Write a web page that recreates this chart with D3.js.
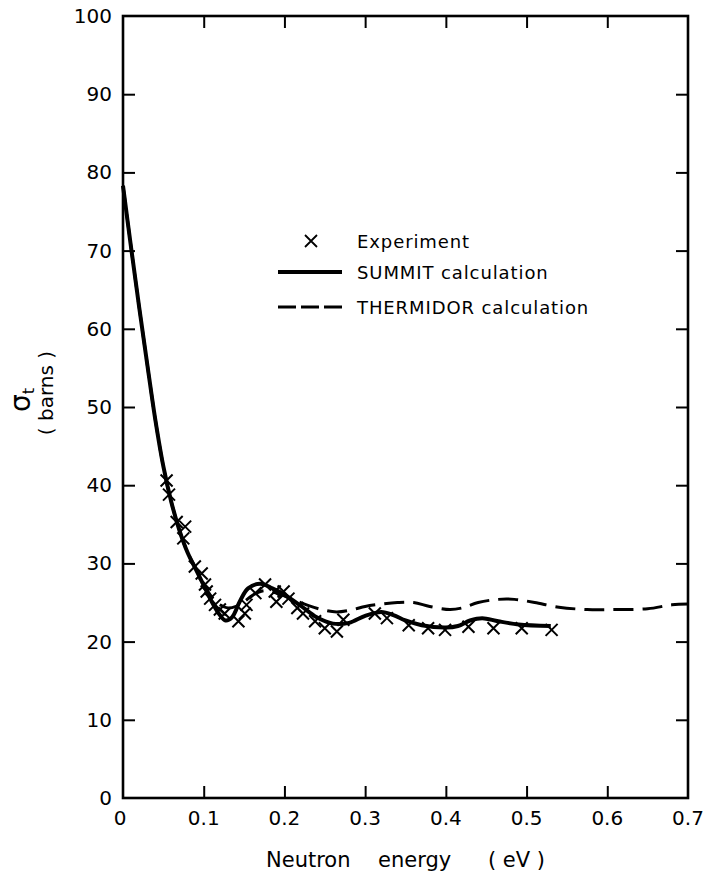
<!DOCTYPE html>
<html><head><meta charset="utf-8">
<script src="https://cdn.jsdelivr.net/npm/d3@7"></script>
<style>body{margin:0;background:#fff}svg{display:block}text{font-family:"DejaVu Sans",sans-serif;fill:#000}</style>
</head><body>
<script>
const xTicks=[0,0.1,0.2,0.3,0.4,0.5,0.6,0.7];
const xTickLabels=["0","0.1","0.2","0.3","0.4","0.5","0.6","0.7"];
const yTicks=[0,10,20,30,40,50,60,70,80,90,100];
const yTickLabels=["0","10","20","30","40","50","60","70","80","90","100"];
const expE=[0.054,0.057,0.0665,0.077,0.0747,0.089,0.0975,0.1016,0.1037,0.108,0.114,0.120,0.126,0.143,0.151,0.153,0.164,0.176,0.188,0.190,0.199,0.205,0.216,0.223,0.238,0.250,0.265,0.273,0.312,0.327,0.354,0.378,0.399,0.428,0.459,0.494,0.531];
const expS=[40.6,38.8,35.3,34.7,33.2,29.6,28.7,27.3,26.4,25.5,24.7,24.1,23.6,22.6,23.6,24.7,26.2,27.3,26.4,25.1,26.4,25.5,24.3,23.6,22.6,21.7,21.3,22.8,23.6,23.0,22.1,21.7,21.5,21.9,21.7,21.7,21.5];
const summitE=[0,0.01,0.02,0.03,0.04,0.05,0.06,0.07,0.08,0.09,0.10,0.11,0.12,0.127,0.135,0.145,0.155,0.17,0.185,0.20,0.22,0.24,0.26,0.28,0.30,0.32,0.335,0.35,0.37,0.40,0.415,0.43,0.445,0.465,0.49,0.53];
const summitS=[78.3,70.4,62.8,55.5,48.4,42.4,37.8,34.2,31.4,29.3,27.2,25.1,23.4,22.7,23.1,25.2,26.8,27.4,26.8,26.0,24.6,23.1,22.3,22.4,23.3,23.8,23.4,22.7,22.1,21.8,22.0,22.7,23.0,22.6,22.2,22.0];
const thermE=[0,0.01,0.02,0.03,0.04,0.05,0.06,0.07,0.08,0.09,0.10,0.11,0.12,0.13,0.14,0.15,0.16,0.175,0.19,0.21,0.23,0.25,0.265,0.285,0.30,0.32,0.34,0.36,0.38,0.405,0.42,0.44,0.465,0.485,0.51,0.54,0.575,0.61,0.65,0.68,0.70];
const thermS=[78.3,70.4,62.8,55.5,48.4,42.4,37.8,34.2,31.4,29.4,27.4,25.7,24.7,24.3,24.5,25.1,25.9,26.5,26.2,25.4,24.6,24.0,23.8,24.1,24.5,24.8,25.0,25.0,24.5,24.1,24.3,25.0,25.4,25.4,25.0,24.4,24.1,24.1,24.2,24.7,24.8];
const legendLabels=["Experiment","SUMMIT calculation","THERMIDOR calculation"];

const W=709,H=875;
const svg=d3.select("body").append("svg").attr("width",W).attr("height",H);
const x=d3.scaleLinear().domain([0,0.7]).range([123,688]);
const y=d3.scaleLinear().domain([0,100]).range([798,16]);
const g=svg.append("g");
g.append("rect").attr("x",x(0)).attr("y",y(100)).attr("width",x(0.7)-x(0)).attr("height",y(0)-y(100))
 .attr("fill","none").attr("stroke","#000").attr("stroke-width",2.6);
const tl=12;
const bottomAx=d3.axisTop(x).tickValues(xTicks.slice(1,-1)).tickSize(tl).tickFormat("");
const topAx=d3.axisBottom(x).tickValues(xTicks.slice(1,-1)).tickSize(tl).tickFormat("");
const leftAx=d3.axisRight(y).tickValues(yTicks.slice(1,-1)).tickSize(tl).tickFormat("");
const rightAx=d3.axisLeft(y).tickValues(yTicks.slice(1,-1)).tickSize(tl).tickFormat("");
[[bottomAx,`translate(0,${y(0)})`],[topAx,`translate(0,${y(100)})`],[leftAx,`translate(${x(0)},0)`],[rightAx,`translate(${x(0.7)},0)`]].forEach(([a,t])=>{
  const ag=g.append("g").attr("transform",t).call(a);
  ag.select(".domain").remove();
  ag.selectAll("line").attr("stroke","#000").attr("stroke-width",2);
});
g.selectAll(".xl").data(xTicks).enter().append("text").attr("class","xl")
 .attr("x",(d,i)=>x(d)+(i==0?-3:0)).attr("y",825).attr("text-anchor","middle").attr("font-size",20)
 .text((d,i)=>xTickLabels[i]);
g.selectAll(".yl").data(yTicks).enter().append("text").attr("class","yl")
 .attr("x",112).attr("y",d=>y(d)+7).attr("text-anchor","end").attr("font-size",20)
 .text((d,i)=>yTickLabels[i]);
const xt=svg.append("text").attr("y",867).attr("font-size",21);
[["Neutron",266],["energy",378],["( eV )",488]].forEach(([t,px])=>xt.append("tspan").attr("x",px).text(t));
const yl=svg.append("text").attr("transform","translate(30,400) rotate(-90)").attr("text-anchor","middle").attr("font-size",28);
yl.append("tspan").text("σ");
yl.append("tspan").attr("font-size",16).attr("dy",4).text("t");
svg.append("text").attr("transform","translate(53,393) rotate(-90)").attr("text-anchor","middle").attr("font-size",20)
 .attr("xml:space","preserve").text("( barns )");
const line=d3.line().x(d=>x(d[0])).y(d=>y(d[1])).curve(d3.curveCatmullRom.alpha(0.5));
g.append("path").datum(thermE.map((e,i)=>[e,thermS[i]])).attr("d",line).attr("fill","none")
 .attr("stroke","#000").attr("stroke-width",3).attr("stroke-dasharray","20,9");
g.append("path").datum(summitE.map((e,i)=>[e,summitS[i]])).attr("d",line).attr("fill","none")
 .attr("stroke","#000").attr("stroke-width",4);
const cs=6;
g.selectAll(".c").data(expE.map((e,i)=>[e,expS[i]])).enter().append("path").attr("class","c")
 .attr("d",d=>{const cx=x(d[0]),cy=y(d[1]);return `M${cx-cs},${cy-cs}L${cx+cs},${cy+cs}M${cx-cs},${cy+cs}L${cx+cs},${cy-cs}`;})
 .attr("stroke","#000").attr("stroke-width",2).attr("fill","none");
const lg=svg.append("g");
lg.append("path").attr("d","M305,235L317,247M305,247L317,235").attr("stroke","#000").attr("stroke-width",1.8);
lg.append("line").attr("x1",278).attr("x2",342).attr("y1",272).attr("y2",272).attr("stroke","#000").attr("stroke-width",4);
lg.append("line").attr("x1",278).attr("x2",342).attr("y1",307).attr("y2",307).attr("stroke","#000").attr("stroke-width",3).attr("stroke-dasharray","18,5");
lg.selectAll(".lt").data(legendLabels).enter().append("text").attr("x",357).attr("y",(d,i)=>[248,279,314][i])
 .attr("font-size",18).attr("letter-spacing",0.9).text(d=>d);
</script>
</body></html>
